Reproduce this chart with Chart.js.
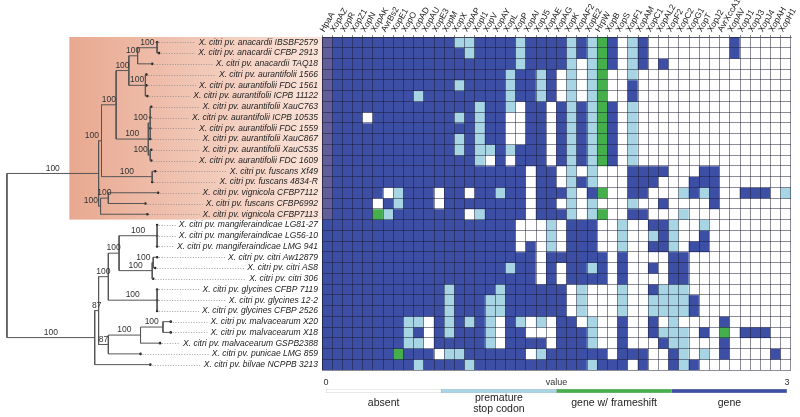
<!DOCTYPE html>
<html>
<head>
<meta charset="utf-8">
<script src="https://cdn.jsdelivr.net/npm/chart.js@4.4.1/dist/chart.umd.min.js"></script>
<style>
html, body { margin: 0; padding: 0; background: #fff; }
#wrap { position: relative; width: 800px; height: 417px; overflow: hidden; }
canvas { position: absolute; }
#tree { left: 0; top: 0; }
#heat { left: 310px; top: 0; }
#scale { left: 310px; top: 370px; }
</style>
</head>
<body>
<div id="wrap">
  <canvas id="tree" width="322" height="417"></canvas>
  <canvas id="heat" width="490" height="372"></canvas>
  <canvas id="scale" width="490" height="47"></canvas>
</div>
<script>
// Effector genes (columns)
var genes = ['HpaA', 'XopAZ', 'XopR', 'XopZ1', 'XopN', 'XopAK', 'AvrBs2', 'XopE1', 'XopO', 'XopAD',
  'XopAU', 'XopE3', 'XopM', 'XopX', 'XopAP', 'XopI1', 'XopV', 'XopAY', 'XopL', 'XopP',
  'XopAI', 'XopJ5', 'XopAE', 'XopAG', 'XopK', 'XopAF2', 'XopE2', 'HrpW', 'XopB', 'XopS',
  'XopF1', 'XopAM', 'XopC1', 'XopAL2', 'XopF2', 'XopC2', 'XopG1', 'XopT', 'XopJ2', 'AvrXccA1',
  'XopAV', 'XopJ1', 'XopJ3', 'XopJ4', 'XopAH', 'XopH1'];

// Strains (rows, top to bottom)
var strains = [
  'X. citri pv. anacardii IBSBF2579', 'X. citri pv. anacardii CFBP 2913', 'X. citri pv. anacardii TAQ18',
  'X. citri pv. aurantifolii 1566', 'X. citri pv. aurantifolii FDC 1561', 'X. citri pv. aurantifolii ICPB 11122',
  'X. citri pv. aurantifolii XauC763', 'X. citri pv. aurantifolii ICPB 10535', 'X. citri pv. aurantifolii FDC 1559',
  'X. citri pv. aurantifolii XauC867', 'X. citri pv. aurantifolii XauC535', 'X. citri pv. aurantifolii FDC 1609',
  'X. citri pv. fuscans Xf49', 'X. citri pv. fuscans 4834-R', 'X. citri pv. vignicola CFBP7112',
  'X. citri pv. fuscans CFBP6992', 'X. citri pv. vignicola CFBP7113', 'X. citri pv. mangiferaindicae LG81-27',
  'X. citri pv. mangiferaindicae LG56-10', 'X. citri pv. mangiferaindicae LMG 941', 'X. citri pv. citri Aw12879',
  'X. citri pv. citri AS8', 'X. citri pv. citri 306', 'X. citri pv. glycines CFBP 7119',
  'X. citri pv. glycines 12-2', 'X. citri pv. glycines CFBP 2526', 'X. citri pv. malvacearum X20',
  'X. citri pv. malvacearum X18', 'X. citri pv. malvacearum GSPB2388', 'X. citri pv. punicae LMG 859',
  'X. citri pv. bilvae NCPPB 3213'];

// Gene state per strain, one digit per gene: 0 absent, 1 premature stop codon, 2 gene w/ frameshift, 3 gene
var calls = [
  '3333333333 3331133331 3333131230 1300000000 300000',
  '3333333333 3333133331 3333131230 1300000000 300000',
  '3333333333 3333333331 3333101230 1303000000 000000',
  '3333333333 3333333313 3130101200 1000000000 000000',
  '3333333333 3331333313 3130101200 3000000000 000000',
  '3333333331 3333333313 3130101200 3000000000 000000',
  '3333333333 3333313310 3303131230 1000000000 000000',
  '3333033333 3331313300 3303131230 1000000000 000000',
  '3333333333 3333313300 3303131230 1000000000 000000',
  '3333333333 3331313300 3303131230 1000000000 000000',
  '3333333333 3331311313 3303131230 1000000000 000000',
  '3333333333 3333310303 3303131230 1000000000 000000',
  '3333333333 3333333333 0330101000 3333000330 000000',
  '3333333333 3333333333 0330131000 3330003330 000000',
  '3333330133 3033033133 0333103200 3300013130 033301',
  '3333303133 3033333333 0330101000 1003000030 000000',
  '3333321333 3333013333 0333101200 3300010000 000000',
  '3333333333 3333333330 0010333001 0033100100 000000',
  '3333333333 3333333330 0010333001 0013100300 000000',
  '3333333333 3333333330 3010333001 0033103300 000000',
  '3333333333 3333333333 3033333303 0000330000 000000',
  '3333333333 3333333313 3030331303 0030330000 000000',
  '3333333333 3333333333 3030333303 0000330000 000000',
  '3333333333 3313333133 3333010001 0031110000 000000',
  '3333333333 3313331133 3333010001 0011113000 000000',
  '3333333333 3313331133 3333010001 0011113000 000000',
  '3333333311 0313131031 0103301003 0030100003 000000',
  '3333333313 0313331033 0003331003 0031110302 033300',
  '3333333311 0333331033 3303331003 0003110003 000000',
  '3333333233 3011333333 0133333303 3300310103 000030',
  '3333333331 3333133333 3333331333 0300313000 000000'];

// Colour key
var stateNames = ['absent', ['premature', 'stop codon'], 'gene w/ frameshift', 'gene'];
var stateRange = [[0, 0.75], [0.75, 1.5], [1.5, 2.25], [2.25, 3]];
var scaleTicks = [0, 1.5, 3];
var scaleTickText = ['0', 'value', '3'];

// Tree: depth of each strain tip along the tree axis
var tipDepth = [157, 159, 152, 146, 146, 147, 151, 150, 150, 150, 151, 151, 155, 152, 158, 145, 147,
  157, 157, 157, 157, 155, 153, 157, 157, 157, 171, 171, 160, 140, 150];

function clade(d, kids, boot) { return { d: d, kids: kids, boot: boot }; }

var anacardii = clade(137, [clade(157, [0, 1], '100'), 2], '100');
var aurantA = clade(145, [3, 4, 5], '100');
var aurantB = clade(148, [clade(150, [6, 7, 8, 9], '100'), clade(150, [10, 11], '100')], '100');
var upperA = clade(115, [clade(128, [anacardii, aurantA], '100'), aurantB], '100');
var fuscans = clade(152, [12, 13], '100');
var vignicola = clade(99, [clade(107, [14, 15], '100'), 16], '100');
var upper = clade(97, [clade(100, [upperA, fuscans], '100'), vignicola], '100');

var mangifera = clade(157, [17, 18, 19], '100');
var citri = clade(152, [clade(153, [20, 21], '100'), 22], '100');
var glycines = clade(157, [23, 24, 25], '100');
var malva = clade(140, [clade(163, [26, 27], '100'), 28], '100');
var lower87 = clade(97, [clade(107, [clade(118, [mangifera, citri], '100'), glycines], '100'),
  clade(107, [malva, 29], '87')], '87');
var lower = clade(93, [lower87, 30], '100');
var root = clade(3, [upper, lower]);

var colors = {
  cell: ['#ffffff', '#a7d5e4', '#45b04b', '#3c4fa5'],
  grid: 'rgba(25,25,50,0.5)',
  text: '#222',
  branch: '#555',
  leader: '#8a8a8a'
};
var font = 'Liberation Sans, Arial, sans-serif';

// ---- tree layout ----
var tree = { segs: [], tips: [], boots: [] };
function layout(n, parentDepth) {
  if (typeof n === 'number') {
    var yl = n + 0.5;
    tree.segs.push([parentDepth, yl, tipDepth[n], yl]);
    tree.tips.push({ x: tipDepth[n], y: yl });
    return yl;
  }
  var ys = n.kids.map(function(k) { return layout(k, n.d); });
  var lo = Math.min.apply(null, ys), hi = Math.max.apply(null, ys);
  var y = (lo + hi) / 2;
  tree.segs.push([n.d, lo, n.d, hi]);
  if (parentDepth !== null) {
    tree.segs.push([parentDepth, y, n.d, y]);
    // support value sits over the middle of its branch, or just left of the node when the branch is short
    var bx = n.d - parentDepth >= 4 ? (parentDepth + n.d) / 2 : n.d - 10;
    if (n.boot) tree.boots.push({ x: bx, y: y, text: n.boot });
  }
  return y;
}
layout(root, null);

var branchPts = [];
tree.segs.forEach(function(s) {
  branchPts.push({ x: s[0], y: s[1] }, { x: s[2], y: s[3] }, { x: s[2], y: null });
});

var treePlugin = {
  id: 'treeDecor',
  beforeDatasetsDraw: function(chart) {
    var ctx = chart.ctx, xs = chart.scales.x, ys = chart.scales.y;
    var x0 = xs.getPixelForValue(67), y0 = ys.getPixelForValue(0), y1 = ys.getPixelForValue(17);
    var g = ctx.createLinearGradient(x0, 0, chart.width, 0);
    g.addColorStop(0, '#e8a890');
    g.addColorStop(1, '#fae4da');
    ctx.save();
    ctx.fillStyle = g;
    ctx.fillRect(x0, y0, chart.width - x0, y1 - y0);
    ctx.restore();
  },
  afterDatasetsDraw: function(chart) {
    var ctx = chart.ctx, xs = chart.scales.x, ys = chart.scales.y;
    var right = chart.width - 4;
    ctx.save();
    ctx.font = 'italic 8.5px ' + font;
    ctx.textAlign = 'right';
    ctx.textBaseline = 'middle';
    strains.forEach(function(name, r) {
      var py = ys.getPixelForValue(r + 0.5);
      var w = ctx.measureText(name).width;
      ctx.strokeStyle = colors.leader;
      ctx.lineWidth = 0.8;
      ctx.setLineDash([1, 1.6]);
      ctx.beginPath();
      ctx.moveTo(xs.getPixelForValue(tipDepth[r]) + 2, Math.round(py) + 0.5);
      ctx.lineTo(right - w - 3, Math.round(py) + 0.5);
      ctx.stroke();
      ctx.setLineDash([]);
      ctx.fillStyle = colors.text;
      ctx.fillText(name, right, py);
    });
    ctx.font = '8.5px ' + font;
    ctx.textAlign = 'center';
    ctx.textBaseline = 'bottom';
    ctx.fillStyle = '#333';
    tree.boots.forEach(function(b) {
      ctx.fillText(b.text, xs.getPixelForValue(b.x), ys.getPixelForValue(b.y) - 1);
    });
    ctx.restore();
  }
};

new Chart(document.getElementById('tree'), {
  type: 'scatter',
  data: {
    datasets: [
      { data: branchPts, showLine: true, spanGaps: false, borderColor: colors.branch, borderWidth: 1, pointRadius: 0 },
      { data: tree.tips, pointRadius: 1.3, backgroundColor: '#222', borderWidth: 0 }
    ]
  },
  options: {
    responsive: false, animation: false, devicePixelRatio: 1,
    layout: { padding: { top: 37, bottom: 47, left: 0, right: 0 } },
    plugins: { legend: { display: false }, tooltip: { enabled: false } },
    scales: {
      x: { type: 'linear', min: 0, max: 322, display: false },
      y: { type: 'linear', min: 0, max: 31, reverse: true, display: false }
    }
  },
  plugins: [treePlugin]
});

// ---- heatmap ----
var heatSets = calls.map(function(row, r) {
  var vals = row.replace(/ /g, '').split('').map(Number);
  return {
    label: strains[r],
    data: genes.map(function() { return [r, r + 1]; }),
    backgroundColor: vals.map(function(v) { return colors.cell[v]; }),
    borderWidth: 0,
    grouped: false,
    barPercentage: 1,
    categoryPercentage: 1
  };
});

var tintPlugin = {
  id: 'tint',
  afterDatasetsDraw: function(chart) {
    var xs = chart.scales.x, ys = chart.scales.y, ctx = chart.ctx;
    var half = (xs.getPixelForValue(1) - xs.getPixelForValue(0)) / 2;
    var px = xs.getPixelForValue(0) - half;
    ctx.save();
    ctx.fillStyle = 'rgba(235,150,120,0.22)';
    ctx.fillRect(px, ys.getPixelForValue(0), half * 2, ys.getPixelForValue(17) - ys.getPixelForValue(0));
    ctx.restore();
  }
};

new Chart(document.getElementById('heat'), {
  type: 'bar',
  data: { labels: genes, datasets: heatSets },
  options: {
    responsive: false, animation: false, devicePixelRatio: 1,
    layout: { padding: { left: 12, right: 9, top: 0, bottom: 2 } },
    plugins: { legend: { display: false }, tooltip: { enabled: false } },
    scales: {
      x: {
        position: 'top',
        grid: { z: 1, color: colors.grid, lineWidth: 1, tickLength: 2, tickColor: '#888', offset: true },
        border: { z: 1, color: colors.grid },
        ticks: { z: 1, autoSkip: false, minRotation: 60, maxRotation: 60, padding: 1, labelOffset: 4,
          color: colors.text, font: { family: font, size: 8.5 } },
        afterFit: function(s) { s.height = 37; }
      },
      y: {
        type: 'linear', min: 0, max: 31, reverse: true,
        ticks: { display: false, stepSize: 1 },
        grid: { z: 1, color: colors.grid, lineWidth: 1, drawTicks: false },
        border: { z: 1, color: colors.grid },
        afterFit: function(s) { s.width = 0; }
      }
    }
  },
  plugins: [tintPlugin]
});

// ---- colour key ----
var keySets = stateRange.map(function(rng, i) {
  return {
    data: [rng],
    backgroundColor: colors.cell[i],
    borderColor: i === 0 ? '#aaa' : 'rgba(0,0,0,0.25)',
    borderWidth: 0.6,
    borderSkipped: false,
    grouped: false,
    barPercentage: 1,
    categoryPercentage: 1
  };
});

new Chart(document.getElementById('scale'), {
  type: 'bar',
  data: { labels: [''], datasets: keySets },
  options: {
    indexAxis: 'y',
    responsive: false, animation: false, devicePixelRatio: 1,
    layout: { padding: { left: 16, right: 13, top: 0, bottom: 0 } },
    plugins: { legend: { display: false }, tooltip: { enabled: false } },
    scales: {
      x: {
        type: 'linear', position: 'top', min: 0, max: 3,
        grid: { display: false, drawTicks: false }, border: { display: false },
        afterBuildTicks: function(s) { s.ticks = scaleTicks.map(function(v) { return { value: v }; }); },
        ticks: { padding: 1, color: '#333', font: { family: font, size: 9 },
          callback: function(v, i) { return scaleTickText[i]; } },
        afterFit: function(s) { s.height = 19; }
      },
      x2: {
        type: 'linear', axis: 'x', position: 'bottom', min: 0, max: 3,
        grid: { display: false, drawTicks: false }, border: { display: false },
        afterBuildTicks: function(s) {
          s.ticks = stateRange.map(function(r) { return { value: (r[0] + r[1]) / 2 }; });
        },
        ticks: { padding: 5, color: colors.text, crossAlign: 'center', font: { family: font, size: 10.5, lineHeight: 1.02 },
          callback: function(v, i) { return stateNames[i]; } },
        afterFit: function(s) { s.height = 24; }
      },
      y: { display: false }
    }
  }
});
</script>
</body>
</html>
